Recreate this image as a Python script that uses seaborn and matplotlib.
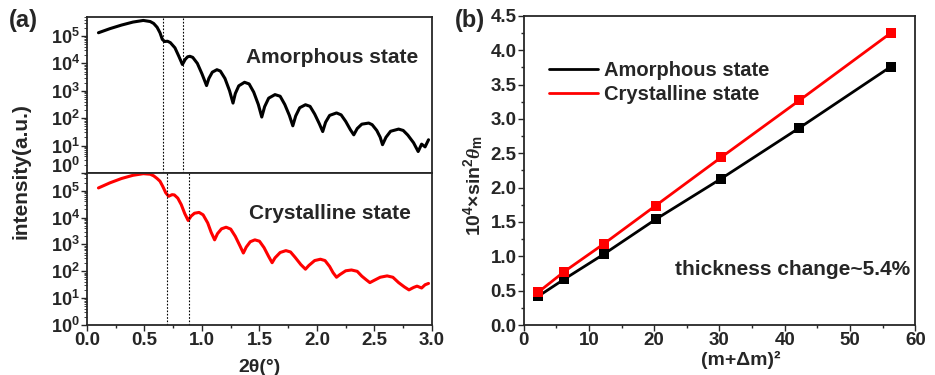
import numpy as np
import pandas as pd
import matplotlib
matplotlib.use("Agg")
import matplotlib.pyplot as plt
import matplotlib.ticker as mticker
import seaborn as sns

# panel (a): XRR curves (2theta in deg, log10 intensity)
amor_2theta = [0.10, 0.20, 0.30, 0.40, 0.49, 0.55, 0.58, 0.61, 0.635, 0.655,
               0.675, 0.70, 0.725, 0.765, 0.80,
               0.83, 0.855, 0.875, 0.895, 0.92, 0.96, 1.00, 1.04,
               1.06, 1.09, 1.13, 1.16, 1.20, 1.24, 1.27,
               1.29, 1.32, 1.37, 1.41, 1.45, 1.49, 1.52,
               1.545, 1.58, 1.635, 1.68, 1.72, 1.76, 1.79,
               1.815, 1.85, 1.90, 1.94, 1.98, 2.02, 2.05,
               2.075, 2.11, 2.17, 2.21, 2.25, 2.29, 2.32,
               2.35, 2.39, 2.45, 2.48, 2.52, 2.55, 2.57,
               2.60, 2.64, 2.71, 2.75, 2.79, 2.84, 2.88,
               2.91, 2.94, 2.97]
amor_log10 = [5.12, 5.27, 5.40, 5.51, 5.57, 5.53, 5.46, 5.32, 5.12, 4.88,
              4.80, 4.81, 4.76, 4.57, 4.25,
              3.96, 4.15, 4.24, 4.26, 4.22, 4.00, 3.62, 3.19,
              3.45, 3.68, 3.77, 3.72, 3.45, 3.00, 2.55,
              2.90, 3.18, 3.31, 3.25, 2.95, 2.50, 2.04,
              2.42, 2.73, 2.86, 2.80, 2.50, 2.10, 1.72,
              2.08, 2.38, 2.49, 2.43, 2.15, 1.80, 1.51,
              1.85, 2.10, 2.19, 2.12, 1.88, 1.58, 1.39,
              1.62, 1.78, 1.82, 1.76, 1.55, 1.30, 1.03,
              1.30, 1.52, 1.60, 1.55, 1.38, 1.10, 0.78,
              1.05, 0.95, 1.21]

crys_2theta = [0.10, 0.20, 0.30, 0.40, 0.49, 0.55, 0.58, 0.61, 0.635, 0.66,
               0.685, 0.71, 0.74, 0.76, 0.79, 0.82, 0.85,
               0.88, 0.905, 0.935, 0.975, 1.01, 1.05, 1.08,
               1.11, 1.135, 1.17, 1.21, 1.25, 1.29, 1.33,
               1.36, 1.385, 1.42, 1.46, 1.50, 1.54, 1.58,
               1.61, 1.635, 1.68, 1.73, 1.77, 1.81, 1.86,
               1.90, 1.93, 1.98, 2.03, 2.07, 2.11, 2.14,
               2.17, 2.20, 2.25, 2.30, 2.35, 2.39, 2.43,
               2.46, 2.50, 2.55, 2.61, 2.66, 2.71, 2.76,
               2.80, 2.84, 2.87, 2.91, 2.94, 2.97]
crys_log10 = [5.10, 5.29, 5.45, 5.57, 5.63, 5.61, 5.55, 5.45, 5.35, 5.15,
              4.92, 4.79, 4.85, 4.84, 4.72, 4.48, 4.15,
              3.89, 4.05, 4.16, 4.19, 4.10, 3.80, 3.45,
              3.17, 3.40, 3.58, 3.64, 3.57, 3.30, 2.95,
              2.68, 2.90, 3.10, 3.17, 3.12, 2.88, 2.55,
              2.32, 2.50, 2.70, 2.77, 2.72, 2.52, 2.25,
              2.08, 2.22, 2.40, 2.45, 2.40, 2.18, 1.95,
              1.78, 1.88, 2.02, 2.05, 2.00, 1.82, 1.68,
              1.58, 1.67, 1.78, 1.83, 1.78, 1.58, 1.42,
              1.31, 1.40, 1.45, 1.38, 1.50, 1.55]

amor_marks = [0.665, 0.835]
crys_marks = [0.70, 0.89]

# panel (b): fringe positions
m_sq = [2.25, 6.25, 12.25, 20.25, 30.25, 42.25, 56.25]
amor_sin2 = [0.42, 0.67, 1.03, 1.54, 2.13, 2.87, 3.76]
crys_sin2 = [0.48, 0.78, 1.18, 1.74, 2.44, 3.27, 4.25]

sns.set_style("ticks")
plt.rcParams["font.family"] = ["Liberation Sans", "DejaVu Sans"]
plt.rcParams["font.weight"] = "bold"
plt.rcParams["mathtext.fontset"] = "custom"
plt.rcParams["mathtext.rm"] = "Liberation Sans:bold"
plt.rcParams["mathtext.bf"] = "Liberation Sans:bold"
plt.rcParams["mathtext.it"] = "Liberation Serif:italic"
plt.rcParams["axes.linewidth"] = 1.3

fig = plt.figure(figsize=(9.35, 3.75), dpi=100)
ax_top = fig.add_axes([0.093, 0.539, 0.369, 0.416])
ax_bot = fig.add_axes([0.093, 0.133, 0.369, 0.406])
ax_b = fig.add_axes([0.560, 0.133, 0.419, 0.825])

amor_df = pd.DataFrame({"x": amor_2theta, "y": np.power(10.0, amor_log10)})
crys_df = pd.DataFrame({"x": crys_2theta, "y": np.power(10.0, crys_log10)})

sns.lineplot(data=amor_df, x="x", y="y", ax=ax_top, color="black", lw=2.2,
             sort=False, estimator=None)
sns.lineplot(data=crys_df, x="x", y="y", ax=ax_bot, color="red", lw=2.2,
             sort=False, estimator=None)

for ax, marks in ((ax_top, amor_marks), (ax_bot, crys_marks)):
    for v in marks:
        ax.axvline(v, color="black", ls=(0, (1.5, 1.5)), lw=0.8)
    ax.set_yscale("log")
    ax.set_xlim(0, 3.0)
    ax.yaxis.set_major_locator(mticker.FixedLocator([1, 10, 100, 1e3, 1e4, 1e5]))
    ax.yaxis.set_minor_locator(mticker.LogLocator(subs=np.arange(2, 10), numticks=20))
    ax.yaxis.set_major_formatter(mticker.FuncFormatter(
        lambda v, p: r"$\mathbf{10^{%d}}$" % round(np.log10(v))))
    ax.yaxis.set_minor_formatter(mticker.NullFormatter())
    ax.tick_params(axis="y", which="major", length=4, width=1, labelsize=13, pad=1)
    ax.tick_params(axis="y", which="minor", length=2, width=0.6)
    ax.set_xlabel("")
    ax.set_ylabel("")
    for s in ax.spines.values():
        s.set_visible(True)

ax_top.set_ylim(1, 10 ** 5.7)
ax_bot.set_ylim(1, 10 ** 5.66)
# the 10^0 label of the upper panel sits on the shared edge
ax_top.yaxis.get_major_ticks()[0].label1.set_va("baseline")
ax_top.tick_params(axis="x", which="both", bottom=False, labelbottom=False)
ax_bot.xaxis.set_major_locator(mticker.MultipleLocator(0.5))
ax_bot.xaxis.set_minor_locator(mticker.MultipleLocator(0.25))
ax_bot.xaxis.set_major_formatter(mticker.FormatStrFormatter("%.1f"))
ax_bot.tick_params(axis="x", which="major", length=4, width=1, labelsize=13.5, pad=1)
ax_bot.tick_params(axis="x", which="minor", length=2, width=1)
ax_bot.set_xlabel("2θ(°)", fontsize=14, fontweight="bold", labelpad=7)

ax_top.text(0.96, 0.74, "Amorphous state", transform=ax_top.transAxes,
            ha="right", va="center", fontsize=15, fontweight="bold")
ax_bot.text(0.94, 0.735, "Crystalline state", transform=ax_bot.transAxes,
            ha="right", va="center", fontsize=15, fontweight="bold")

fig.text(0.022, 0.545, "intensity(a.u.)", rotation=90, ha="center",
         va="center", fontsize=15, fontweight="bold")
fig.text(0.010, 0.945, "(a)", fontsize=17, fontweight="bold", va="center")
fig.text(0.486, 0.945, "(b)", fontsize=17, fontweight="bold", va="center")

# panel (b)
b_df = pd.DataFrame({
    "x": m_sq * 2,
    "y": amor_sin2 + crys_sin2,
    "state": ["Amorphous state"] * len(m_sq) + ["Crystalline state"] * len(m_sq),
})
sns.lineplot(data=b_df, x="x", y="y", hue="state", ax=ax_b,
             palette={"Amorphous state": "black", "Crystalline state": "red"},
             marker="s", markersize=7, markeredgewidth=0, lw=2,
             estimator=None, legend=False)

ax_b.set_xlim(0, 60)
ax_b.set_ylim(0, 4.5)
ax_b.xaxis.set_major_locator(mticker.MultipleLocator(10))
ax_b.xaxis.set_minor_locator(mticker.MultipleLocator(5))
ax_b.yaxis.set_major_locator(mticker.MultipleLocator(0.5))
ax_b.yaxis.set_minor_locator(mticker.MultipleLocator(0.25))
ax_b.yaxis.set_major_formatter(mticker.FormatStrFormatter("%.1f"))
ax_b.tick_params(which="major", length=4, width=1, labelsize=13.5, pad=1)
ax_b.tick_params(which="minor", length=2, width=1)
for s in ax_b.spines.values():
    s.set_visible(True)
ax_b.set_xlabel("(m+Δm)²", fontsize=14, fontweight="bold", labelpad=0)
ax_b.xaxis.set_label_coords(0.555, -0.085)
ax_b.set_ylabel(r"$\mathbf{10^4{\times}sin^2}\mathit{\theta}_\mathrm{m}$",
                fontsize=14)
ax_b.yaxis.set_label_coords(-0.095, 0.45)

handles = [plt.Line2D([], [], color="black", lw=2),
           plt.Line2D([], [], color="red", lw=2)]
ax_b.legend(handles, ["Amorphous state", "Crystalline state"], loc="upper left",
            bbox_to_anchor=(0.066, 0.853), frameon=False, fontsize=14.5,
            handlelength=2.4, handletextpad=0.3, labelspacing=0.25,
            borderpad=0, borderaxespad=0)

ax_b.text(0.987, 0.18, "thickness change~5.4%", transform=ax_b.transAxes,
          ha="right", va="center", fontsize=15, fontweight="bold")

fig.savefig("out.png", dpi=100)
